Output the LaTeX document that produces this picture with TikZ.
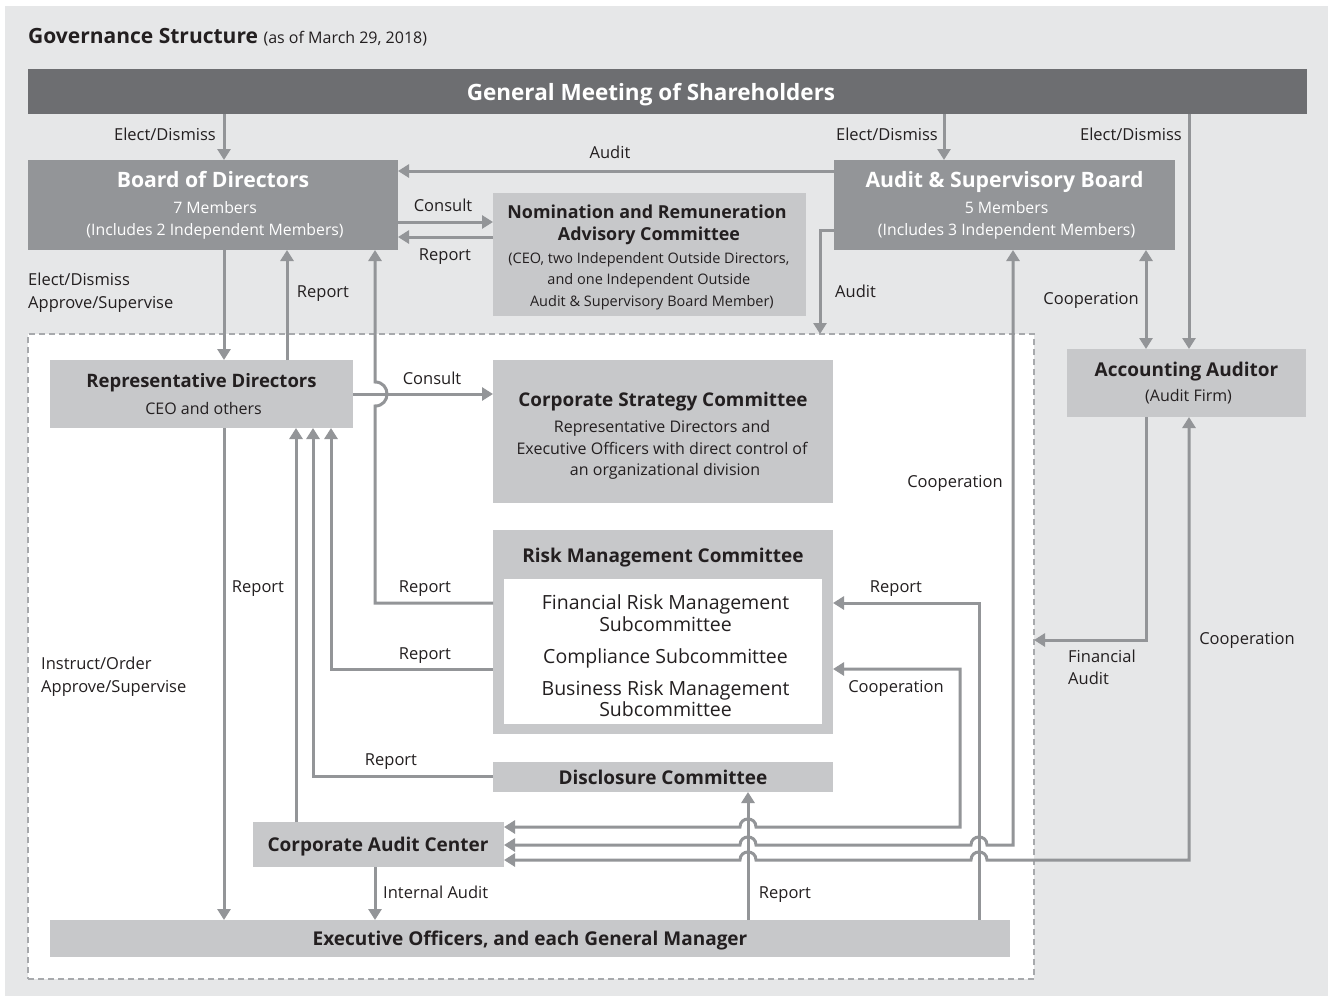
\documentclass[tikz,border=0pt]{standalone}
\usepackage{fontspec}
\setmainfont{Open Sans}
\usetikzlibrary{arrows.meta}
\definecolor{panel}{HTML}{E6E7E8}
\definecolor{darkbar}{HTML}{6D6E71}
\definecolor{midbox}{HTML}{939598}
\definecolor{lightbox}{HTML}{C7C8CA}
\definecolor{txt}{HTML}{231F20}
\definecolor{lnc}{HTML}{939598}
\definecolor{dashc}{HTML}{A7A9AC}
\newcommand{\fsz}[1]{\fontsize{#1}{#1}\selectfont}
\tikzset{
  boxs/.style={draw=none, inner sep=0pt, outer sep=0pt},
  lbl/.style={inner sep=0pt, text=txt, font=\fsz{16.5}, anchor=base},
  tip/.tip={Triangle[width=13pt,length=11pt]},
  conn/.style={draw=lnc, line width=3pt},
  arr/.style={conn, -tip},
  darr/.style={conn, tip-tip},
  wt/.style={inner sep=0pt, text=white, anchor=base},
  bt/.style={inner sep=0pt, text=txt, anchor=base},
}
\begin{document}
\begin{tikzpicture}[x=1pt,y=-1pt]
\useasboundingbox (0,0) rectangle (1328,996);
\fill[panel] (5,6) rectangle (1328,996);
% title
\node[bt, anchor=base west] (title) at (28,43) {\fsz{21}\bfseries Governance Structure\ \fsz{16}\mdseries(as of March 29, 2018)};
% dashed region
\node[boxs, fill=white, draw=dashc, line width=1.2pt, dash pattern=on 6pt off 4pt, minimum width=1006pt, minimum height=645pt] (reg) at (531,656.5) {};
% boxes
\node[boxs, fill=darkbar, minimum width=1279pt, minimum height=45pt] (gm) at (667.5,91.5) {};
\node[wt] (gmt) at (651,100) {\fsz{22.5}\bfseries General Meeting of Shareholders};
\node[boxs, fill=midbox, minimum width=370pt, minimum height=90pt] (bod) at (213,205) {};
\node[wt] (bodt) at (213,187.6) {\fsz{21.2}\bfseries Board of Directors};
\node[wt] (bodm) at (213,213.7) {\fsz{15.8} 7 Members};
\node[wt] (bodi) at (213,235.7) {\fsz{15.8} (Includes 2 Independent Members)};
\node[boxs, fill=midbox, minimum width=341pt, minimum height=90pt] (asb) at (1004.5,205) {};
\node[wt] (asbt) at (1004.5,187.6) {\fsz{21.2}\bfseries Audit \& Supervisory Board};
\node[wt] (asbm) at (1004.5,213.7) {\fsz{15.8} 5 Members};
\node[wt] (asbi) at (1004.5,235.7) {\fsz{15.8} (Includes 3 Independent Members)};
\node[boxs, fill=lightbox, minimum width=313pt, minimum height=123pt] (nom) at (649.5,254.5) {};
\node[bt] (nomt1) at (647,218.4) {\fsz{17.9}\bfseries Nomination and Remuneration};
\node[bt] (nomt2) at (649,240.4) {\fsz{17.9}\bfseries Advisory Committee};
\node[bt] (nomm1) at (647,263.2) {\fsz{14.5} (CEO, two Independent Outside Directors,};
\node[bt] (nomm2) at (647,284.2) {\fsz{14.5} and one Independent Outside};
\node[bt] (nomm3) at (650,306.2) {\fsz{14.5} Audit \& Supervisory Board Member)};
\node[boxs, fill=lightbox, minimum width=239pt, minimum height=68pt] (acc) at (1186.5,383) {};
\node[bt] (acct) at (1186.5,376.8) {\fsz{19}\bfseries Accounting Auditor};
\node[bt] (accs) at (1186.5,401.8) {\fsz{16} (Audit Firm)};
\node[boxs, fill=lightbox, minimum width=303pt, minimum height=68pt] (rep) at (201.5,394) {};
\node[bt] (rept) at (201.5,387.6) {\fsz{18.5}\bfseries Representative Directors};
\node[bt] (reps) at (201.5,414.8) {\fsz{16} CEO and others};
\node[boxs, fill=lightbox, minimum width=340pt, minimum height=143pt] (csc) at (663,431.5) {};
\node[bt] (csct) at (663,406.8) {\fsz{18.9}\bfseries Corporate Strategy Committee};
\node[bt] (csc1) at (660,432.8) {\fsz{16} Representative Directors and};
\node[bt] (csc2) at (660,454.8) {\fsz{16} Executive Officers with direct control of};
\node[bt] (csc3) at (663,475.8) {\fsz{16} an organizational division};
\node[boxs, fill=lightbox, minimum width=340pt, minimum height=204pt] (rmc) at (663,632) {};
\node[boxs, fill=white, minimum width=318pt, minimum height=145pt] (rmi) at (663,651.5) {};
\node[bt] (rmct) at (663,562.8) {\fsz{19}\bfseries Risk Management Committee};
\node[bt] (rm1) at (663,609) {\fsz{19.5} Financial Risk Management};
\node[bt] (rm2) at (663,631) {\fsz{19.5} Subcommittee};
\node[bt] (rm3) at (663,663) {\fsz{19.5} Compliance Subcommittee};
\node[bt] (rm4) at (663,695) {\fsz{19.5} Business Risk Management};
\node[bt] (rm5) at (663,716) {\fsz{19.5} Subcommittee};
\node[boxs, fill=lightbox, minimum width=340pt, minimum height=30pt] (dsc) at (663,777) {};
\node[bt] (dsct) at (663,784.8) {\fsz{19}\bfseries Disclosure Committee};
\node[boxs, fill=lightbox, minimum width=251pt, minimum height=45pt] (cac) at (378.5,844.5) {};
\node[bt] (cact) at (378,851.8) {\fsz{19}\bfseries Corporate Audit Center};
\node[boxs, fill=lightbox, minimum width=960pt, minimum height=37pt] (exo) at (530,938.5) {};
\node[bt] (exot) at (530,945.8) {\fsz{19}\bfseries Executive Officers, and each General Manager};
% column and row coordinates
\foreach \xx in {224,287,296,313,331,375,748,820,944,960,979,1013,1146,1189}
  \coordinate (c\xx) at (\xx,0);
\foreach \yy in {171,222,230,237,394,603,640,669,776,827,845,860}
  \coordinate (r\yy) at (0,\yy);
% connectors top
\draw[arr] (gm.south -| c224) -- (bod.north -| c224);
\draw[arr] (gm.south -| c944) -- (asb.north -| c944);
\draw[arr] (gm.south -| c1189) -- (acc.north -| c1189);
\draw[arr] (asb.west |- r171) -- (bod.east |- r171);
\draw[arr] (bod.east |- r222) -- (nom.west |- r222);
\draw[arr] (nom.west |- r237) -- (bod.east |- r237);
\draw[arr] (asb.west |- r230) -| (reg.north -| c820);
\draw[darr] (asb.south -| c1146) -- (acc.north -| c1146);
\draw[arr] (bod.south -| c224) -- (rep.north -| c224);
\draw[arr] (rep.north -| c287) -- (bod.south -| c287);
% consult rep -> csc
\draw[arr] (rep.east |- r394) -- (csc.west |- r394);
% report rmc -> bod with bump
\draw[conn, tip-] (bod.south -| c375) -- (375,382) .. controls (391,382) and (391,406) .. (375,406) -- (c375 |- r603) -- (rmc.west |- r603);
\draw[arr] (rmc.west |- r669) -| (rep.south -| c331);
\draw[arr] (dsc.west |- r776) -| (rep.south -| c313);
\draw[arr] (cac.north -| c296) -- (rep.south -| c296);
\draw[arr] (rep.south -| c224) -- (exo.north -| c224);
\draw[arr] (cac.south -| c375) -- (exo.north -| c375);
% financial audit
\draw[arr] (acc.south -| c1146) |- (reg.east |- r640);
% right side
\draw[arr] (exo.north -| c979) -- (c979 |- r603) -- (rmc.east |- r603);
\draw[arr] (exo.north -| c748) -- (dsc.south -| c748);
\draw[darr] (rmc.east |- r669) -- (c960 |- r669) -- (c960 |- r827) -- (756,827) .. controls (756,816.3) and (740,816.3) .. (740,827) -- (cac.east |- r827);
\draw[darr] (asb.south -| c1013) -- (c1013 |- r845) -- (987,845) .. controls (987,834.3) and (971,834.3) .. (971,845) -- (756,845) .. controls (756,834.3) and (740,834.3) .. (740,845) -- (cac.east |- r845);
\draw[darr] (acc.south -| c1189) -- (c1189 |- r860) -- (987,860) .. controls (987,849.3) and (971,849.3) .. (971,860) -- (756,860) .. controls (756,849.3) and (740,849.3) .. (740,860) -- (cac.east |- r860);
% labels
\node[lbl, anchor=base east] (l1) at (216,140.9) {Elect/Dismiss};
\node[lbl, anchor=base east] (l2) at (938,140.9) {Elect/Dismiss};
\node[lbl, anchor=base east] (l3) at (1182,140.9) {Elect/Dismiss};
\node[lbl] (l4) at (610,158.9) {Audit};
\node[lbl] (l5) at (443,211.9) {Consult};
\node[lbl] (l6) at (445,260.9) {Report};
\node[lbl, anchor=base west] (l7) at (28,285.9) {Elect/Dismiss};
\node[lbl, anchor=base west] (l8) at (28,308.9) {Approve/Supervise};
\node[lbl] (l9) at (323,297.9) {Report};
\node[lbl, anchor=base west] (l10) at (835,297.9) {Audit};
\node[lbl, anchor=base east] (l11) at (1139,304.9) {Cooperation};
\node[lbl] (l12) at (432,384.9) {Consult};
\node[lbl] (l13) at (955,487.9) {Cooperation};
\node[lbl] (l14) at (258,592.9) {Report};
\node[lbl] (l15) at (425,592.9) {Report};
\node[lbl] (l16) at (896,592.9) {Report};
\node[lbl] (l17) at (1247,644.9) {Cooperation};
\node[lbl] (l18) at (425,659.9) {Report};
\node[lbl, anchor=base west] (l19) at (41,669.9) {Instruct/Order};
\node[lbl, anchor=base west] (l20) at (41,692.9) {Approve/Supervise};
\node[lbl, anchor=base west] (l21) at (1068,662.9) {Financial};
\node[lbl, anchor=base west] (l22) at (1068,684.9) {Audit};
\node[lbl] (l23) at (896,692.9) {Cooperation};
\node[lbl] (l24) at (391,765.9) {Report};
\node[lbl, anchor=base west] (l25) at (383,898.9) {Internal Audit};
\node[lbl] (l26) at (785,898.9) {Report};
\end{tikzpicture}
\end{document}
